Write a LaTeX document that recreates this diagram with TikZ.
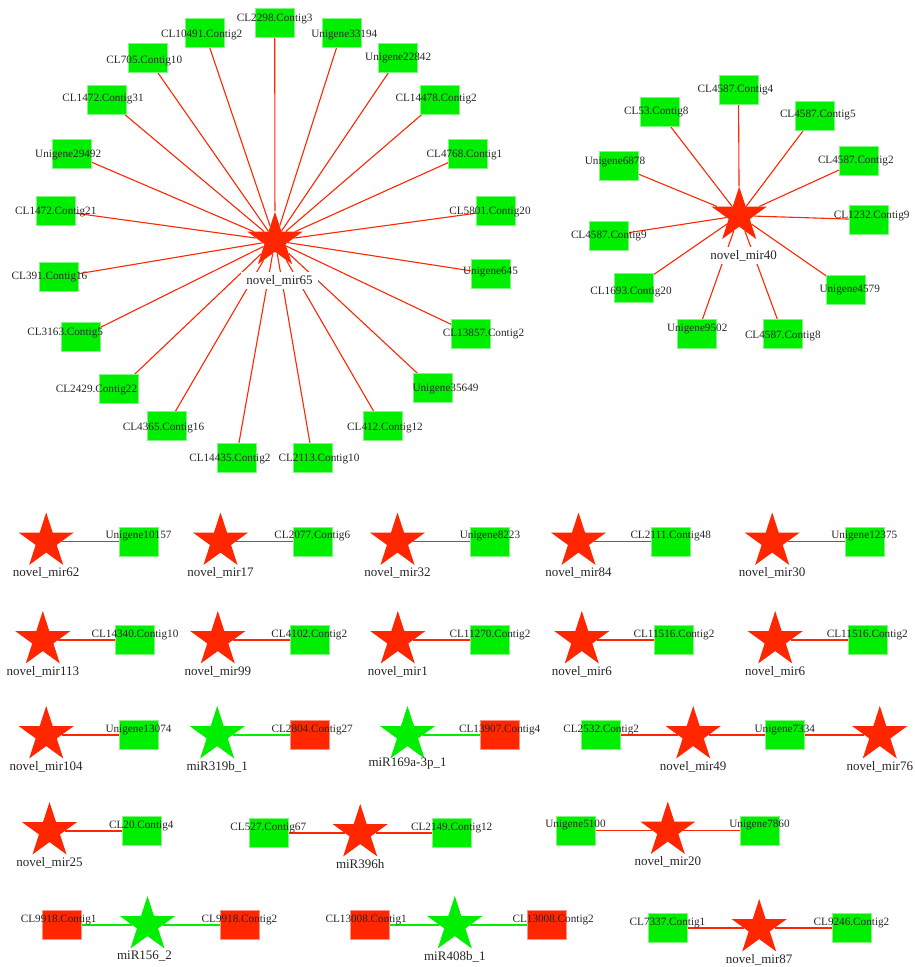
\documentclass[tikz,border=0pt]{standalone}
\usepackage{fontspec}
\setmainfont{Liberation Serif}
\usepackage{xcolor}
\usetikzlibrary{shapes,backgrounds}

\definecolor{mirred}{RGB}{255,38,0}
\definecolor{mirgreen}{RGB}{0,238,0}

\begin{document}
\begin{tikzpicture}[x=1pt, y=-1pt,
    mir/.style={star, star points=5, star point ratio=2.618, minimum size=58pt, inner sep=0pt, fill=mirred, draw=none},
    mirg/.style={mir, fill=mirgreen},
    gene/.style={rectangle, minimum width=39pt, minimum height=29pt, inner sep=0pt, fill=mirgreen, draw=mirgreen!50!white, line width=0.6pt},
    gener/.style={gene, fill=mirred, draw=mirred!50!white},
    glbl/.style={font=\fontsize{11.2}{13}\selectfont, text=black!85, inner sep=0pt},
    rlbl/.style={glbl, yshift=5.5pt},
    mtxt/.style={font=\fontsize{13}{15}\selectfont, text=black!85},
    mlbl/.style={mtxt, inner sep=0pt, yshift=-31.5pt},
    hublbl/.style={mtxt, fill=white, inner xsep=5pt, inner ysep=3pt, yshift=-40pt, xshift=4.5pt},
    redge/.style={draw=mirred, line width=1.1pt},
    gedge/.style={draw=mirgreen, line width=1.1pt}
]
\useasboundingbox (0,0) rectangle (914,967);

% novel_mir65 cluster
\node[gene, label={[glbl, yshift=4pt]center:CL2298.Contig3}] (c2298) at (274.7,23.2) {};
\node[gene, label={[glbl, xshift=3pt, yshift=-2pt]center:Unigene33194}] (u33194) at (341.3,32.8) {};
\node[gene, label={[glbl]center:Unigene22842}] (u22842) at (398.2,58.2) {};
\node[gene, label={[glbl, xshift=-3.3pt]center:CL14478.Contig2}] (c14478) at (439.5,99.3) {};
\node[gene, label={[glbl, xshift=-3.5pt, yshift=-1.5pt]center:CL4768.Contig1}] (c4768) at (468,153.7) {};
\node[gene, label={[glbl, xshift=-6pt, yshift=-1.5pt]center:CL5801.Contig20}] (c5801) at (496,210.5) {};
\node[gene, label={[glbl, yshift=2pt]center:Unigene645}] (u645) at (490.5,273.8) {};
\node[gene, label={[glbl, xshift=12.5pt]center:CL13857.Contig2}] (c13857) at (471,333.8) {};
\node[gene, label={[glbl, xshift=12.5pt, yshift=-1.5pt]center:Unigene35649}] (u35649) at (433,387.8) {};
\node[gene, label={[glbl, xshift=2.7pt, yshift=-2pt]center:CL412.Contig12}] (c412) at (382.3,426.2) {};
\node[gene, label={[glbl, xshift=6.5pt, yshift=-1.5pt]center:CL2113.Contig10}] (c2113) at (312.5,457.8) {};
\node[gene, label={[glbl, xshift=-6.4pt, yshift=-1.5pt]center:CL14435.Contig2}] (c14435) at (236.3,457.8) {};
\node[gene, label={[glbl, xshift=-3.2pt, yshift=-2pt]center:CL4365.Contig16}] (c4365) at (166.7,426.2) {};
\node[gene, label={[glbl, xshift=-22.7pt, yshift=-1pt]center:CL2429.Contig22}] (c2429) at (119.2,389) {};
\node[gene, label={[glbl, xshift=-15.8pt, yshift=4pt]center:CL3163.Contig5}] (c3163) at (81,337) {};
\node[gene, label={[glbl, xshift=-9.5pt]center:CL391.Contig16}] (c391) at (59,277) {};
\node[gene, label={[glbl, yshift=-1.5pt]center:CL1472.Contig21}] (c1472b) at (55.8,210.5) {};
\node[gene, label={[glbl, xshift=-3.5pt, yshift=-1.5pt]center:Unigene29492}] (u29492) at (71.7,153.7) {};
\node[gene, label={[glbl, xshift=-3.7pt]center:CL1472.Contig31}] (c1472a) at (106.7,99.3) {};
\node[gene, label={[glbl, xshift=-3.4pt, yshift=-2.5pt]center:CL705.Contig10}] (c705) at (147.7,58.2) {};
\node[gene, label={[glbl, xshift=-3pt, yshift=-2pt]center:CL10491.Contig2}] (c10491) at (204.7,32.8) {};
\node[mir, label={[hublbl]center:novel\_mir65}] (m65) at (275,240.7) {};

% novel_mir40 cluster
\node[gene, label={[glbl, xshift=-3pt]center:CL4587.Contig4}] (c4587d) at (738.5,89.7) {};
\node[gene, label={[glbl, xshift=-3.2pt]center:CL53.Contig8}] (c53) at (659.5,112.2) {};
\node[gene, label={[glbl, xshift=3pt]center:CL4587.Contig5}] (c4587e) at (814.8,115.3) {};
\node[gene, label={[glbl, xshift=-3.3pt, yshift=4pt]center:Unigene6878}] (u6878) at (618.3,165.8) {};
\node[gene, label={[glbl, xshift=-3pt]center:CL4587.Contig2}] (c4587b) at (858.8,161) {};
\node[gene, label={[glbl, xshift=3pt, yshift=3.7pt]center:CL1232.Contig9}] (c1232) at (868.7,219.7) {};
\node[gene, label={[glbl]center:CL4587.Contig9}] (c4587i) at (608.8,235.7) {};
\node[gene, label={[glbl, xshift=-3.2pt, yshift=-3.7pt]center:CL1693.Contig20}] (c1693) at (634.2,288) {};
\node[gene, label={[glbl, xshift=3.5pt]center:Unigene4579}] (u4579) at (846.2,289.7) {};
\node[gene, label={[glbl, yshift=4.7pt]center:Unigene9502}] (u9502) at (697.2,334) {};
\node[gene, label={[glbl, yshift=-1.7pt]center:CL4587.Contig8}] (c4587h) at (782.8,334) {};
\node[mir, label={[hublbl]center:novel\_mir40}] (m40) at (739.2,215.6) {};

% row 1
\node[mir, label={[mlbl]center:novel\_mir62}] (m62) at (46.2,541.5) {};
\node[gene, label={[rlbl]center:Unigene10157}] (u10157) at (138.5,541.5) {};
\node[mir, label={[mlbl]center:novel\_mir17}] (m17) at (220.5,541.5) {};
\node[gene, label={[rlbl]center:CL2077.Contig6}] (c2077) at (312.3,541.5) {};
\node[mir, label={[mlbl]center:novel\_mir32}] (m32) at (397.5,541.5) {};
\node[gene, label={[rlbl]center:Unigene8223}] (u8223) at (490,541.5) {};
\node[mir, label={[mlbl]center:novel\_mir84}] (m84) at (578.5,541.5) {};
\node[gene, label={[rlbl]center:CL2111.Contig48}] (c2111) at (670.7,541.5) {};
\node[mir, label={[mlbl]center:novel\_mir30}] (m30) at (772.2,541.5) {};
\node[gene, label={[rlbl]center:Unigene12375}] (u12375) at (864.3,541.5) {};

% row 2
\node[mir, label={[mlbl]center:novel\_mir113}] (m113) at (42.8,640) {};
\node[gene, label={[rlbl]center:CL14340.Contig10}] (c14340) at (135,640) {};
\node[mir, label={[mlbl]center:novel\_mir99}] (m99) at (217.8,640) {};
\node[gene, label={[rlbl]center:CL4102.Contig2}] (c4102) at (309.3,640) {};
\node[mir, label={[mlbl]center:novel\_mir1}] (m1) at (397.8,640) {};
\node[gene, label={[rlbl]center:CL11270.Contig2}] (c11270) at (490,640) {};
\node[mir, label={[mlbl]center:novel\_mir6}] (m6a) at (581.8,640) {};
\node[gene, label={[rlbl]center:CL11516.Contig2}] (c11516a) at (674,640) {};
\node[mir, label={[mlbl]center:novel\_mir6}] (m6b) at (775.2,640) {};
\node[gene, label={[rlbl]center:CL11516.Contig2}] (c11516b) at (867.3,640) {};

% row 3
\node[mir, label={[mlbl]center:novel\_mir104}] (m104) at (46.2,735) {};
\node[gene, label={[rlbl]center:Unigene13074}] (u13074) at (138.5,735) {};
\node[mirg, label={[mlbl]center:miR319b\_1}] (m319) at (217.2,735) {};
\node[gener, label={[rlbl, xshift=2.7pt]center:CL2804.Contig27}] (c2804) at (309.5,735) {};
\node[mirg, label={[mlbl, yshift=2.5pt]center:miR169a-3p\_1}] (m169) at (407.5,735) {};
\node[gener, label={[rlbl]center:CL13907.Contig4}] (c13907) at (499.7,735) {};
\node[gene, label={[rlbl]center:CL2532.Contig2}] (c2532) at (601.2,735) {};
\node[mir, label={[mlbl]center:novel\_mir49}] (m49) at (693.2,735) {};
\node[gene, label={[rlbl]center:Unigene7334}] (u7334) at (784.8,735) {};
\node[mir, label={[mlbl]center:novel\_mir76}] (m76) at (879.8,735) {};

% row 4
\node[mir, label={[mlbl]center:novel\_mir25}] (m25) at (49.5,831) {};
\node[gene, label={[rlbl]center:CL20.Contig4}] (c20) at (141.3,831) {};
\node[gene, label={[rlbl]center:CL527.Contig67}] (c527) at (268.3,833) {};
\node[mir, label={[mlbl]center:miR396h}] (m396) at (360.2,833) {};
\node[gene, label={[rlbl]center:CL2149.Contig12}] (c2149) at (451.7,833) {};
\node[gene, label={[rlbl]center:Unigene5100}] (u5100) at (575.5,830.5) {};
\node[mir, label={[mlbl]center:novel\_mir20}] (m20) at (667.8,830.5) {};
\node[gene, label={[rlbl]center:Unigene7860}] (u7860) at (759.5,830.5) {};

% row 5
\node[gener, label={[rlbl, xshift=-3.3pt]center:CL9918.Contig1}] (c9918a) at (62,925) {};
\node[mirg, label={[mlbl, xshift=-3pt]center:miR156\_2}] (m156) at (147.5,925) {};
\node[gener, label={[rlbl]center:CL9918.Contig2}] (c9918b) at (239.5,925) {};
\node[gener, label={[rlbl, xshift=-3.3pt]center:CL13008.Contig1}] (c13008a) at (369.5,925) {};
\node[mirg, label={[mlbl]center:miR408b\_1}] (m408) at (454.8,925) {};
\node[gener, label={[rlbl, xshift=6pt]center:CL13008.Contig2}] (c13008b) at (547.2,925) {};
\node[gene, label={[rlbl]center:CL7337.Contig1}] (c7337) at (667.5,928) {};
\node[mir, label={[mlbl]center:novel\_mir87}] (m87) at (759.2,928) {};
\node[gene, label={[rlbl]center:CL9246.Contig2}] (c9246) at (851.5,928) {};

% edges
\begin{scope}[on background layer]
\draw[redge] (m65) -- (c2298);
\draw[redge] (m65) -- (u33194);
\draw[redge] (m65) -- (u22842);
\draw[redge] (m65) -- (c14478);
\draw[redge] (m65) -- (c4768);
\draw[redge] (m65) -- (c5801);
\draw[redge] (m65) -- (u645);
\draw[redge] (m65) -- (c13857);
\draw[redge] (m65) -- (u35649);
\draw[redge] (m65) -- (c412);
\draw[redge] (m65) -- (c2113);
\draw[redge] (m65) -- (c14435);
\draw[redge] (m65) -- (c4365);
\draw[redge] (m65) -- (c2429);
\draw[redge] (m65) -- (c3163);
\draw[redge] (m65) -- (c391);
\draw[redge] (m65) -- (c1472b);
\draw[redge] (m65) -- (u29492);
\draw[redge] (m65) -- (c1472a);
\draw[redge] (m65) -- (c705);
\draw[redge] (m65) -- (c10491);

\draw[redge] (m40) -- (c4587d);
\draw[redge] (m40) -- (c53);
\draw[redge] (m40) -- (c4587e);
\draw[redge] (m40) -- (u6878);
\draw[redge] (m40) -- (c4587b);
\draw[redge] (m40) -- (c1232);
\draw[redge] (m40) -- (c4587i);
\draw[redge] (m40) -- (c1693);
\draw[redge] (m40) -- (u4579);
\draw[redge] (m40) -- (u9502);
\draw[redge] (m40) -- (c4587h);

\draw[redge] (m62) -- (u10157);
\draw[redge] (m17) -- (c2077);
\draw[redge] (m32) -- (u8223);
\draw[redge] (m84) -- (c2111);
\draw[redge] (m30) -- (u12375);
\draw[redge] (m113) -- (c14340);
\draw[redge] (m99) -- (c4102);
\draw[redge] (m1) -- (c11270);
\draw[redge] (m6a) -- (c11516a);
\draw[redge] (m6b) -- (c11516b);
\draw[redge] (m104) -- (u13074);
\draw[gedge] (m319) -- (c2804);
\draw[gedge] (m169) -- (c13907);
\draw[redge] (c2532) -- (m49);
\draw[redge] (m49) -- (u7334);
\draw[redge] (u7334) -- (m76);
\draw[redge] (m25) -- (c20);
\draw[redge] (c527) -- (m396);
\draw[redge] (m396) -- (c2149);
\draw[redge] (u5100) -- (m20);
\draw[redge] (m20) -- (u7860);
\draw[gedge] (c9918a) -- (m156);
\draw[gedge] (m156) -- (c9918b);
\draw[gedge] (c13008a) -- (m408);
\draw[gedge] (m408) -- (c13008b);
\draw[redge] (c7337) -- (m87);
\draw[redge] (m87) -- (c9246);
\end{scope}

\end{tikzpicture}
\end{document}
